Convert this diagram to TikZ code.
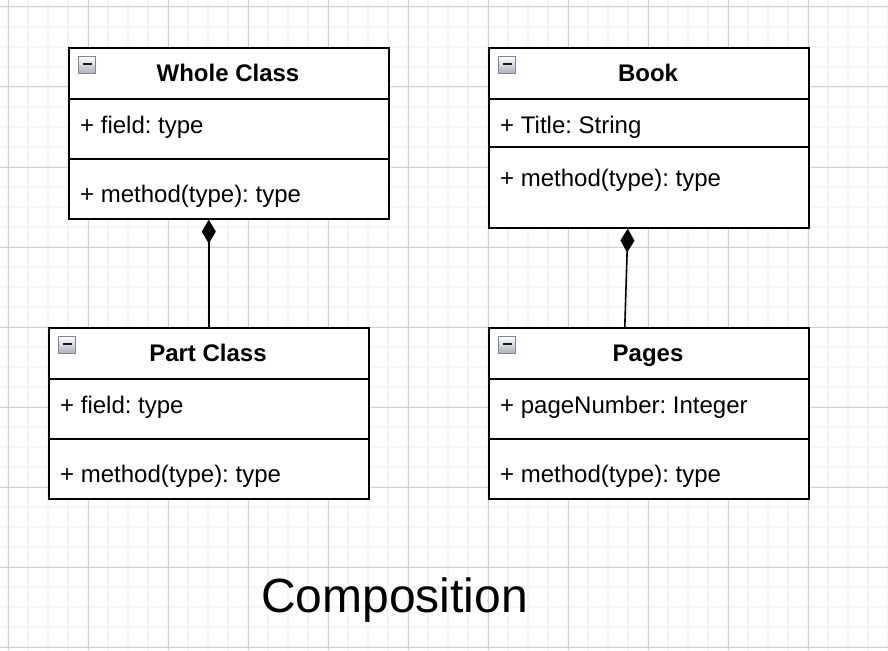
\documentclass[tikz,border=0pt]{standalone}
\usepackage{fontspec}
\setmainfont{Liberation Sans}
\usetikzlibrary{arrows.meta, positioning}
\definecolor{togglerim}{HTML}{7E8596}
\definecolor{togglelow}{HTML}{A9AEBA}
\frenchspacing

\begin{document}
\begin{tikzpicture}[x=1pt, y=-1pt,
            classbox/.style={draw, rectangle, fill=white, line width=1.6pt, minimum width=320pt, inner sep=0pt, anchor=north west},
            sep/.style={line width=1.6pt},
            title/.style={anchor=base, inner sep=0pt, font=\fontsize{24}{28}\selectfont\bfseries},
            member/.style={anchor=base west, inner sep=0pt, font=\fontsize{24}{28}\selectfont},
            toggle/.style={draw=togglerim, line width=1pt, top color=white, bottom color=togglelow, minimum size=17pt, inner sep=0pt, anchor=north west,
                path picture={\draw[line width=2.6pt, black!90] ([xshift=-4.5pt, yshift=1pt]path picture bounding box.center) -- ([xshift=4.5pt, yshift=1pt]path picture bounding box.center);}},
            comp/.style={-{Diamond[length=24pt, width=14pt]}, line width=1.6pt},
            minorgrid/.style={draw=black!4, line width=1.4pt},
            majorgrid/.style={draw=black!18, line width=1pt}]

            \useasboundingbox (0,0) rectangle (888,650);

            % grid
            \foreach \x in {8,28,...,888} \draw[minorgrid] (\x,0) -- (\x,650);
            \foreach \y in {7,27,...,647} \draw[minorgrid] (0,\y) -- (888,\y);
            \foreach \x in {8,88,...,888} \draw[majorgrid] (\x,0) -- (\x,650);
            \foreach \y in {7,87,...,647} \draw[majorgrid] (0,\y) -- (888,\y);

            % Whole Class
            \node[classbox, minimum height=171pt] (whole) at (68,47) {};
            \draw[sep] ([yshift=-52pt]whole.north west) -- ([yshift=-52pt]whole.north east);
            \draw[sep] ([yshift=-112pt]whole.north west) -- ([yshift=-112pt]whole.north east);
            \node[toggle] (wholetoggle) at (78,56) {};
            \node[title] (wholetitle) at (228,81.5) {Whole Class};
            \node[member] (wholefield) at (80,133) {+ field: type};
            \node[member] (wholemethod) at (80,202) {+ method(type): type};

            % Book
            \node[classbox, minimum height=180pt] (book) at (488,47) {};
            \draw[sep] ([yshift=-52pt]book.north west) -- ([yshift=-52pt]book.north east);
            \draw[sep] ([yshift=-100pt]book.north west) -- ([yshift=-100pt]book.north east);
            \node[toggle] (booktoggle) at (498,56) {};
            \node[title] (booktitle) at (648,81.5) {Book};
            \node[member] (bookfield) at (500,133) {+ Title: String};
            \node[member] (bookmethod) at (500,186) {+ method(type): type};

            % Part Class
            \node[classbox, minimum height=171pt] (part) at (48,327) {};
            \draw[sep] ([yshift=-52pt]part.north west) -- ([yshift=-52pt]part.north east);
            \draw[sep] ([yshift=-112pt]part.north west) -- ([yshift=-112pt]part.north east);
            \node[toggle] (parttoggle) at (58,336) {};
            \node[title] (parttitle) at (208,361.5) {Part Class};
            \node[member] (partfield) at (60,413) {+ field: type};
            \node[member] (partmethod) at (60,482) {+ method(type): type};

            % Pages
            \node[classbox, minimum height=171pt] (pages) at (488,327) {};
            \draw[sep] ([yshift=-52pt]pages.north west) -- ([yshift=-52pt]pages.north east);
            \draw[sep] ([yshift=-112pt]pages.north west) -- ([yshift=-112pt]pages.north east);
            \node[toggle] (pagestoggle) at (498,336) {};
            \node[title] (pagestitle) at (648,361.5) {Pages};
            \node[member] (pagesfield) at (500,413) {+ pageNumber: Integer};
            \node[member] (pagesmethod) at (500,482) {+ method(type): type};

            % composition
            \draw[comp] (part.north) -- (part.north |- whole.south);
            \draw[comp] ([xshift=-24pt]pages.north) -- ([xshift=-21pt]book.south);

            \node[anchor=base, inner sep=0pt, font=\fontsize{48}{56}\selectfont] (caption) at (394.5,612) {Composition};
        \end{tikzpicture}
\end{document}
